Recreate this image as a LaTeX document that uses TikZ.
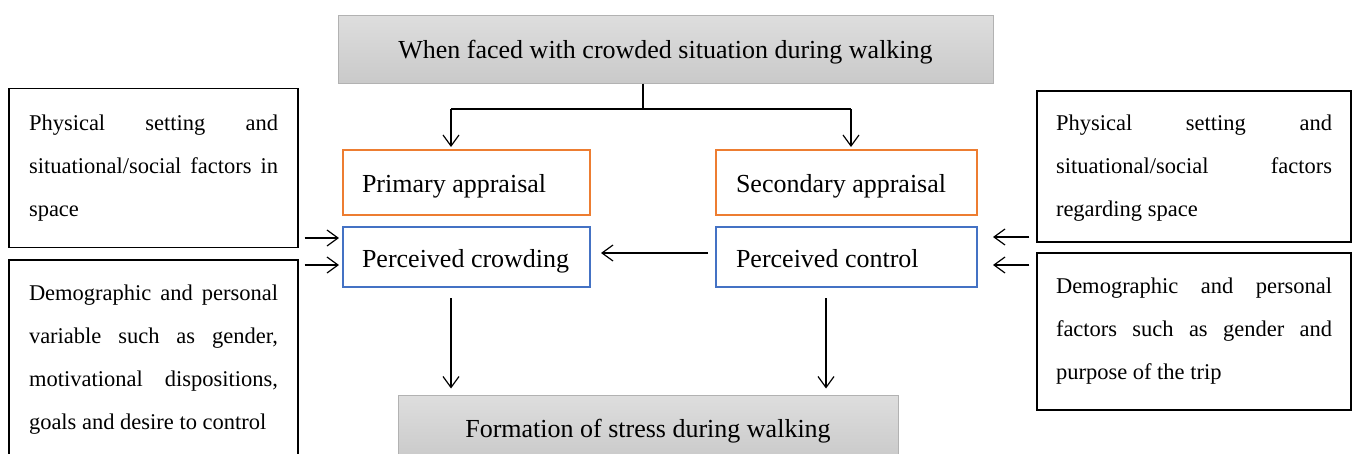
\documentclass[tikz,border=0pt]{standalone}
\usepackage{fontspec}
\setmainfont{Liberation Serif}
\usetikzlibrary{arrows.meta,calc}
\definecolor{orng}{HTML}{ED7D31}
\definecolor{blu}{HTML}{4472C4}
\newcommand{\jline}[2]{\makebox[#1][s]{#2}}
\newcommand{\lline}[2]{\makebox[#1][l]{#2}}
\begin{document}
\begin{tikzpicture}[x=1pt,y=-1pt,
  graybox/.style={draw=black!30, line width=1pt, top color=black!13, bottom color=black!21,
    inner sep=0pt, text height=21pt, text depth=3pt, font=\fontsize{26}{30}\selectfont},
  labbox/.style={draw=#1, line width=2pt, inner sep=0pt, text height=22pt, text depth=3pt,
    font=\fontsize{26}{30}\selectfont},
  sidebox/.style={draw=black, line width=1.2pt, inner sep=0pt, align=left,
    font=\fontsize{22.5}{43}\selectfont},
  plainline/.style={line width=1.2pt},
  arr/.style={line width=1.2pt, -{Straight Barb[length=11pt,width=16pt]}}
]
\useasboundingbox (0,0) rectangle (1352,453);
\clip (0,0) rectangle (1352,453);

% top and bottom grey boxes
\node[graybox, minimum width=655pt, minimum height=68pt] (top) at (665.5,49)
  {When faced with crowded situation during walking};
\node[graybox, minimum width=500pt, minimum height=66pt] (bot) at (648,428)
  {Formation of stress during walking};

% central boxes
\node[labbox=orng, minimum width=247pt, minimum height=65pt]
  (prim) at (466.5,182.5) {\lline{209pt}{Primary appraisal}};
\node[labbox=orng, minimum width=261pt, minimum height=65pt]
  (sec) at (846.5,182.5) {\lline{221pt}{Secondary appraisal}};
\node[labbox=blu, minimum width=247pt, minimum height=60pt, text height=24pt]
  (pcrowd) at (466.5,257) {\lline{209pt}{Perceived crowding}};
\node[labbox=blu, minimum width=261pt, minimum height=60pt, text height=24pt]
  (pcontrol) at (846.5,257) {\lline{221pt}{Perceived control}};

% side boxes
\node[sidebox, minimum width=289pt, minimum height=159pt]
  (lb1) at (153.5,168)
  {\jline{249pt}{Physical setting and}\\\jline{249pt}{situational/social factors in}\\\lline{249pt}{space}};
\node[sidebox, minimum width=289pt, minimum height=200pt]
  (lb2) at (153.5,360)
  {\jline{249pt}{Demographic and personal}\\\jline{249pt}{variable such as gender,}\\\jline{249pt}{motivational dispositions,}\\\lline{249pt}{goals and desire to control}};
\node[sidebox, minimum width=314pt, minimum height=151pt]
  (rb1) at (1194,166.5) {};
\node[align=left, inner sep=0pt, font=\fontsize{22.5}{43}\selectfont] (rb1t) at ([yshift=-2pt]rb1.center)
  {\jline{276pt}{Physical setting and}\\\jline{276pt}{situational/social factors}\\\lline{276pt}{regarding space}};
\node[sidebox, minimum width=314pt, minimum height=157pt]
  (rb2) at (1194,331.5)
  {\jline{276pt}{Demographic and personal}\\\jline{276pt}{factors such as gender and}\\\lline{276pt}{purpose of the trip}};

% helper coordinates
\coordinate (tc) at (643,109);
\coordinate (bl) at (451,109);
\coordinate (br) at (851,109);
\coordinate (dr) at (826,300);
\coordinate (hy) at (650,253);
\coordinate (ya) at (0,238);
\coordinate (yb) at (0,265);
\coordinate (yc) at (0,237);
\coordinate (yd) at (0,265);

% connectors
\draw[plainline] (top.south -| tc) -- (tc);
\draw[plainline] (bl) -- (br);
\draw[arr, shorten >=2pt] (bl) -- (prim.north -| bl);
\draw[arr, shorten >=2pt] (br) -- (sec.north -| br);
\draw[arr, shorten <=10pt, shorten >=6pt] (pcrowd.south -| bl) -- (bot.north -| bl);
\draw[arr, shorten <=10pt, shorten >=6pt] (pcontrol.south -| dr) -- (bot.north -| dr);
\draw[arr, shorten <=7pt, shorten >=10pt] (pcontrol.west |- hy) -- (pcrowd.east |- hy);
\draw[arr, shorten <=6pt, shorten >=3pt] (lb1.east |- ya) -- (pcrowd.west |- ya);
\draw[arr, shorten <=6pt, shorten >=3pt] (lb2.east |- yb) -- (pcrowd.west |- yb);
\draw[arr, shorten <=7pt, shorten >=15pt] (rb1.west |- yc) -- (pcontrol.east |- yc);
\draw[arr, shorten <=7pt, shorten >=15pt] (rb2.west |- yd) -- (pcontrol.east |- yd);
\end{tikzpicture}
\end{document}
